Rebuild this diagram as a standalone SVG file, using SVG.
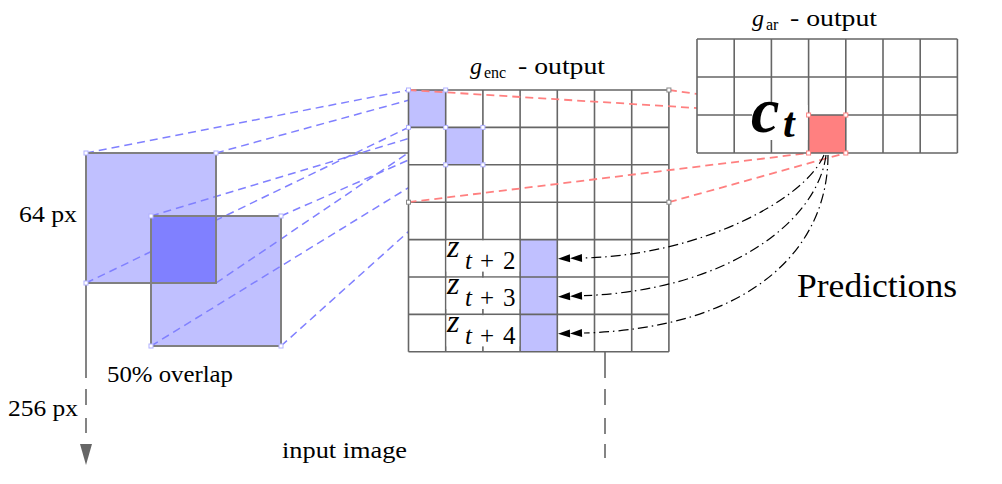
<svg xmlns="http://www.w3.org/2000/svg" width="1002" height="484" viewBox="0 0 1002 484" font-family="Liberation Serif, Times New Roman, serif">
<style>
.grid{fill:none;stroke:#666;stroke-width:1.6}
.sqo{fill:none;stroke:#808080;stroke-width:2}
.blue{fill:none;stroke:#8080ff;stroke-width:1.5;stroke-dasharray:8 5}
.red{fill:none;stroke:#ff8080;stroke-width:1.8;stroke-dasharray:8 5}
.pred{fill:none;stroke:#000;stroke-width:1.2;stroke-dasharray:10 4 1.5 4}
.axis{fill:none;stroke:#666;stroke-width:1.6}
.mb{fill:#fff;stroke:#b0b0ff;stroke-width:1}
.mg{fill:#fff;stroke:#888;stroke-width:1}
.mr{fill:#fff;stroke:#ff8080;stroke-width:1}
.lb{fill:#c0c0ff}
.zl{font-size:32px;font-style:italic}
.zs{font-size:25px}
</style>
<defs>
<marker id="dbl" viewBox="0 -6 28 12" markerWidth="28" markerHeight="12" refX="0" refY="0" orient="auto" markerUnits="userSpaceOnUse" overflow="visible">
<path d="M26,0 L14,-4 L14,4 Z M14,0 L2,-4 L2,4 Z" fill="#000"/>
</marker>
</defs>

<g id="input-image">
<rect class="lb" x="86" y="153" width="130" height="130"/>
<rect class="lb" x="151" y="216" width="130" height="130"/>
<path class="axis" d="M216,153 H408.5"/>
<path class="axis" d="M86,283 V378 M86,389 V405 M86,418 V433"/>
<polygon points="80,444 92,444 86,465" fill="#666"/>
<path class="axis" d="M605,351.8 V378 M605,389 V405 M605,418 V434 M605,444 V458"/>
</g>

<g id="connectors-patches">
<path class="blue" d="M86,153 L408.5,90 M216,153 L445.7,90 M86,283 L408.5,127.4 M216,283 L445.7,127.4"/>
<path class="blue" d="M151,216 L445.7,127.4 M281,216 L482.9,127.4 M151,346 L445.7,164.8 M281,346 L482.9,164.8"/>
</g>

<g id="input-image-overlap">
<rect x="151" y="216" width="65" height="67" fill="#8080ff"/>
<rect class="sqo" x="86" y="153" width="130" height="130"/>
<rect class="sqo" x="151" y="216" width="130" height="130"/>
</g>

<g id="enc-grid">
<rect x="408.5" y="90" width="260.4" height="261.8" fill="#fff"/>
<rect class="lb" x="408.5" y="90" width="37.2" height="37.4"/>
<rect class="lb" x="445.7" y="127.4" width="37.2" height="37.4"/>
<rect class="lb" x="520.1" y="239.6" width="37.2" height="112.2"/>
<path class="grid" d="M408.5,90 V351.8 M445.7,90 V351.8 M482.9,90 V351.8 M520.1,90 V351.8 M557.3,90 V351.8 M594.5,90 V351.8 M631.7,90 V351.8 M668.9,90 V351.8 M408.5,90 H668.9 M408.5,127.4 H668.9 M408.5,164.8 H668.9 M408.5,202.2 H668.9 M408.5,239.6 H668.9 M408.5,277 H668.9 M408.5,314.4 H668.9 M408.5,351.8 H668.9"/>
<text x="470" y="73.5" font-size="24" font-style="italic">g</text>
<text x="484" y="77.5" font-size="16">enc</text>
<text x="518" y="73.5" font-size="24" textLength="87" lengthAdjust="spacingAndGlyphs">- output</text>
</g>

<g id="z-labels">
<rect x="446.6" y="240.4" width="72.6" height="31.2" fill="#fff"/>
<rect x="446.6" y="277.8" width="72.6" height="31.2" fill="#fff"/>
<rect x="446.6" y="315.2" width="72.6" height="31.2" fill="#fff"/>
<text class="zl" x="447" y="257">z</text>
<text class="zs" x="465" y="269" font-style="italic">t</text>
<text class="zs" x="480" y="269">+</text>
<text class="zs" x="503" y="269">2</text>
<text class="zl" x="447" y="294.4">z</text>
<text class="zs" x="465" y="306.4" font-style="italic">t</text>
<text class="zs" x="480" y="306.4">+</text>
<text class="zs" x="503" y="306.4">3</text>
<text class="zl" x="447" y="331.8">z</text>
<text class="zs" x="465" y="343.8" font-style="italic">t</text>
<text class="zs" x="480" y="343.8">+</text>
<text class="zs" x="503" y="343.8">4</text>
</g>

<g id="connectors-context">
<path class="red" d="M408.5,90 L808.6,115 M668.9,90 L845.8,115 M408.5,202.2 L808.6,153 M668.9,202.2 L845.8,153"/>
</g>

<g id="ar-grid">
<rect x="697" y="39" width="260.4" height="114" fill="#fff"/>
<rect x="808.6" y="115" width="37.2" height="38" fill="#ff8080"/>
<path class="grid" d="M697,39 V153 M734.2,39 V153 M771.4,39 V153 M808.6,39 V153 M845.8,39 V153 M883,39 V153 M920.2,39 V153 M957.4,39 V153 M697,39 H957.4 M697,77 H957.4 M697,115 H957.4 M697,153 H957.4"/>
<rect x="752" y="105" width="55.6" height="35" fill="#fff"/>
<text x="751" y="132" font-size="64" font-weight="bold" font-style="italic">c</text>
<text x="783" y="137" font-size="42" font-weight="bold" font-style="italic">t</text>
<text x="752" y="26" font-size="24" font-style="italic">g</text>
<text x="766" y="30" font-size="16">ar</text>
<text x="790" y="26" font-size="24" textLength="87" lengthAdjust="spacingAndGlyphs">- output</text>
</g>

<g id="corner-markers">
<rect class="mb" x="84" y="151" width="4" height="4"/>
<rect class="mb" x="214" y="151" width="4" height="4"/>
<rect class="mb" x="84" y="281" width="4" height="4"/>
<rect class="mb" x="149" y="214" width="4" height="4"/>
<rect class="mb" x="279" y="214" width="4" height="4"/>
<rect class="mb" x="149" y="344" width="4" height="4"/>
<rect class="mb" x="279" y="344" width="4" height="4"/>
<rect class="mb" x="406.5" y="88" width="4" height="4"/>
<rect class="mb" x="443.7" y="88" width="4" height="4"/>
<rect class="mb" x="406.5" y="125.4" width="4" height="4"/>
<rect class="mb" x="443.7" y="125.4" width="4" height="4"/>
<rect class="mb" x="480.9" y="125.4" width="4" height="4"/>
<rect class="mb" x="443.7" y="162.8" width="4" height="4"/>
<rect class="mb" x="480.9" y="162.8" width="4" height="4"/>
<rect class="mg" x="666.9" y="88" width="4" height="4"/>
<rect class="mg" x="406.5" y="200.2" width="4" height="4"/>
<rect class="mg" x="666.9" y="200.2" width="4" height="4"/>
<rect class="mr" x="806.6" y="113" width="4" height="4"/>
<rect class="mr" x="843.8" y="113" width="4" height="4"/>
<rect class="mr" x="806.6" y="151" width="4" height="4"/>
<rect class="mr" x="843.8" y="151" width="4" height="4"/>
</g>

<g id="connectors-predictions">
<path class="pred" d="M824,155 C805,200 700,255 584,258" marker-end="url(#dbl)"/>
<path class="pred" d="M826,155 C818,220 730,290 584,295.7" marker-end="url(#dbl)"/>
<path class="pred" d="M828,155 C828,250 750,328 584,333" marker-end="url(#dbl)"/>
</g>

<g id="labels">
<text x="19" y="222" font-size="23" textLength="58" lengthAdjust="spacingAndGlyphs">64 px</text>
<text x="8" y="416" font-size="23" textLength="70" lengthAdjust="spacingAndGlyphs">256 px</text>
<text x="107" y="382" font-size="23" textLength="126" lengthAdjust="spacingAndGlyphs">50% overlap</text>
<text x="282" y="458" font-size="23" textLength="125" lengthAdjust="spacingAndGlyphs">input image</text>
<text x="797" y="297" font-size="33" textLength="160" lengthAdjust="spacingAndGlyphs">Predictions</text>
</g>
</svg>
